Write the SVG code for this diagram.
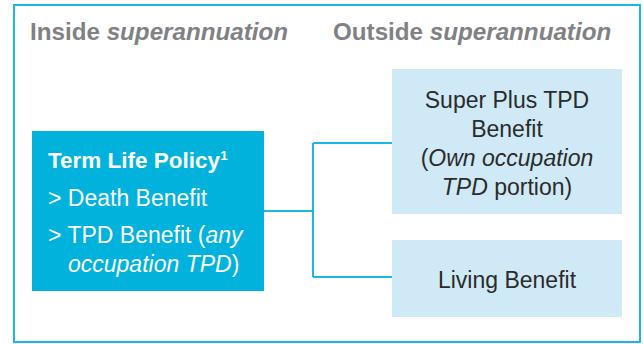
<svg xmlns="http://www.w3.org/2000/svg" width="643" height="344" viewBox="0 0 643 344">
<style>
.hdr{font-family:"Liberation Sans",Arial,sans-serif;font-size:24.2px;font-weight:bold;fill:#808184}
.wt{font-family:"Liberation Sans",Arial,sans-serif;fill:#ffffff}
.dk{font-family:"Liberation Sans",Arial,sans-serif;font-size:23px;fill:#2b2b2b;text-anchor:middle}
.lb{fill:#cfeaf6}
.con{fill:none;stroke:#1cb6e4;stroke-width:2}
</style>
<rect x="14" y="5" width="626" height="337" fill="#ffffff" stroke="#1cb6e4" stroke-width="2"/>
<text class="hdr" x="30" y="40">Inside <tspan font-style="italic">superannuation</tspan></text>
<text class="hdr" x="333" y="40">Outside <tspan font-style="italic">superannuation</tspan></text>
<g id="connectors">
<path class="con" d="M264 211H313M313 143V277M313 143H392M313 277H392"/>
</g>
<g id="term-life">
<rect x="32" y="131" width="232" height="160" fill="#00b2dc"/>
<text class="wt" x="48" y="168" font-size="22.5" font-weight="bold">Term Life Policy<tspan font-size="13.5" dy="-8">1</tspan></text>
<text class="wt" x="48" y="206" font-size="23">&gt; Death Benefit</text>
<text class="wt" x="48" y="243" font-size="23">&gt; TPD Benefit (<tspan font-style="italic">any</tspan></text>
<text class="wt" x="68" y="272" font-size="23"><tspan font-style="italic">occupation TPD</tspan>)</text>
</g>
<g id="super-plus">
<rect class="lb" x="392" y="69" width="230" height="145"/>
<text class="dk" x="507" y="108">Super Plus TPD</text>
<text class="dk" x="507" y="137">Benefit</text>
<text class="dk" x="507" y="166">(<tspan font-style="italic">Own occupation</tspan></text>
<text class="dk" x="507" y="195"><tspan font-style="italic">TPD</tspan> portion)</text>
</g>
<g id="living">
<rect class="lb" x="392" y="240" width="230" height="77"/>
<text class="dk" x="507" y="288">Living Benefit</text>
</g>
</svg>
